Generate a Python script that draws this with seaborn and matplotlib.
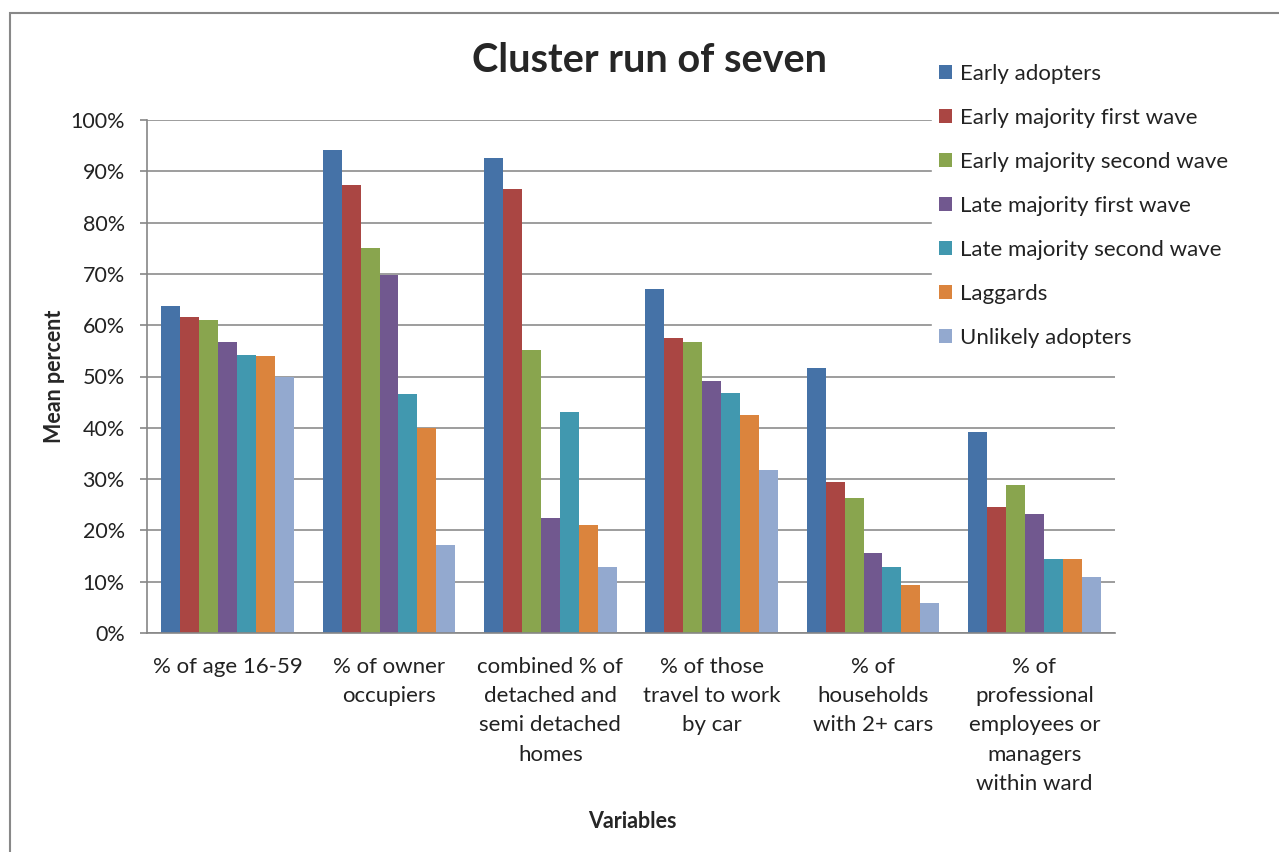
import pandas as pd
import matplotlib.pyplot as plt
import seaborn as sns
from matplotlib.patches import Rectangle

# Data
categories = [
    "% of age 16-59",
    "% of owner\noccupiers",
    "combined % of\ndetached and\nsemi detached\nhomes",
    "% of those\ntravel to work\nby car",
    "% of\nhouseholds\nwith 2+ cars",
    "% of\nprofessional\nemployees or\nmanagers\nwithin ward",
]
clusters = [
    "Early adopters",
    "Early majority first wave",
    "Early majority second wave",
    "Late majority first wave",
    "Late majority second wave",
    "Laggards",
    "Unlikely adopters",
]
early_adopters = [63.7, 94.1, 92.5, 67.1, 51.6, 39.1]
early_majority_1 = [61.6, 87.4, 86.6, 57.6, 29.4, 24.6]
early_majority_2 = [61.0, 75.1, 55.1, 56.7, 26.4, 28.9]
late_majority_1 = [56.7, 69.8, 22.4, 49.2, 15.5, 23.2]
late_majority_2 = [54.1, 46.6, 43.1, 46.7, 12.8, 14.5]
laggards = [53.9, 39.9, 21.0, 42.4, 9.3, 14.5]
unlikely_adopters = [50.0, 17.1, 12.9, 31.7, 5.9, 10.9]
series = [early_adopters, early_majority_1, early_majority_2, late_majority_1,
          late_majority_2, laggards, unlikely_adopters]
colors = ["#4572A7", "#AA4643", "#89A54E", "#71588F", "#4198AF", "#DB843D", "#93A9CF"]

rows = []
for name, vals in zip(clusters, series):
    for cat, v in zip(categories, vals):
        rows.append({"variable": cat, "cluster": name, "value": v})
df = pd.DataFrame(rows)

sns.set_theme(style="white")
plt.rcParams["font.family"] = ["Lato", "DejaVu Sans"]

W, H = 1279, 852
fig = plt.figure(figsize=(W / 100, H / 100), dpi=100)
ax = fig.add_axes([147 / W, 1 - 633 / H, (1115 - 147) / W, (633 - 120) / H])

sns.barplot(data=df, x="variable", y="value", hue="cluster", order=categories,
            hue_order=clusters, palette=colors, width=7 / 8.5, gap=0,
            linewidth=0, saturation=1, ax=ax, errorbar=None)

ax.set_ylim(0, 100)
ax.set_xlim(-0.5, len(categories) - 0.5)
ax.set_yticks(range(0, 101, 10))
ax.set_yticklabels([f"{t}%" for t in range(0, 101, 10)], fontsize=15.5, color="#222222")
ax.tick_params(axis="y", length=5, width=1.2, color="#868686", pad=11, left=True)
ax.set_xticks(range(len(categories)))
ax.set_xticklabels(categories, fontsize=16, color="#222222", linespacing=1.59, va="top")
ax.tick_params(axis="x", length=0, pad=17)

ax.yaxis.grid(True, color="#8c8c8c", linewidth=1.2)
ax.set_axisbelow(True)
for s in ["top", "right"]:
    ax.spines[s].set_visible(False)
for s in ["left", "bottom"]:
    ax.spines[s].set_color("#868686")
    ax.spines[s].set_linewidth(1.2)

ax.set_xlabel("Variables", fontsize=15.5, fontweight="bold")
ax.set_ylabel("Mean percent", fontsize=15.5, fontweight="bold")
ax.xaxis.set_label_coords((632 - 147) / 968, (633 - 811) / 513)
ax.yaxis.set_label_coords((65 - 147) / 968, 0.5)

fig.text(650 / W, 1 - 60 / H, "Cluster run of seven", fontsize=28.5,
         fontweight="bold", ha="center", va="center")

handles, labels = ax.get_legend_handles_labels()
leg = ax.legend(handles, labels, loc="upper left",
                bbox_to_anchor=(932 / W, 1 - 57 / H), bbox_transform=fig.transFigure,
                frameon=True, fontsize=16, labelspacing=1.08, handlelength=0.6,
                handleheight=0.6, handletextpad=0.35, borderpad=0.3, borderaxespad=0)
leg.get_frame().set_facecolor("white")
leg.get_frame().set_edgecolor("white")
leg.get_frame().set_alpha(1)
for t in leg.get_texts():
    t.set_color("#222222")

# outer chart border
fig.add_artist(Rectangle((10 / W, -0.1), 2, (1 - 13 / H) + 0.1, transform=fig.transFigure,
                         fill=False, edgecolor="#888888", linewidth=1.5))

fig.savefig("out.png", dpi=100)
